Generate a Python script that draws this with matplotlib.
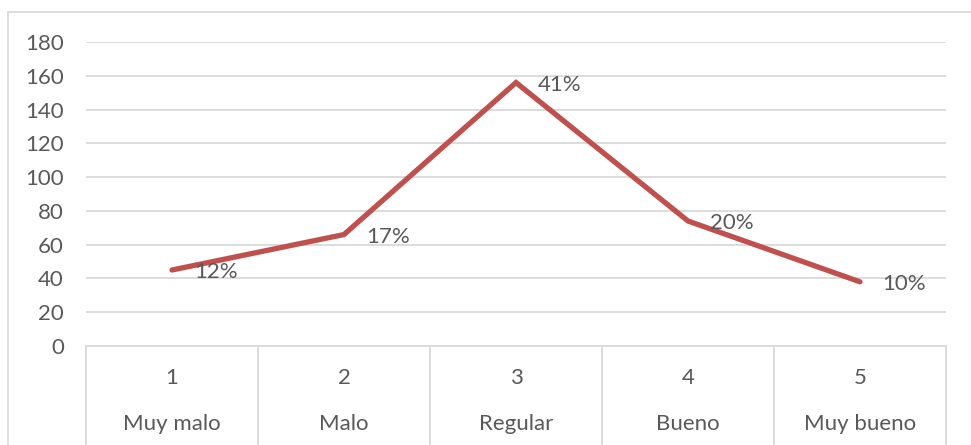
import numpy as np
import matplotlib.pyplot as plt
from matplotlib.lines import Line2D
from matplotlib.transforms import blended_transform_factory

# data
numbers = ['1', '2', '3', '4', '5']
categories = ['Muy malo', 'Malo', 'Regular', 'Bueno', 'Muy bueno']
counts = [45, 66, 156, 74, 38]
pct_labels = ['12%', '17%', '41%', '20%', '10%']

plt.rcParams['font.family'] = ['Lato', 'DejaVu Sans']
text_color = '#595959'
grid_color = '#D9D9D9'
fs = 16

fig = plt.figure(figsize=(9.71, 4.45), dpi=100)
W, H = 971, 445
ax = fig.add_axes([86 / W, (H - 346) / H, (946 - 86) / W, (346 - 42) / H])

x = np.arange(1, len(counts) + 1)
ax.plot(x, counts, color='#C0504D', linewidth=3.8, solid_capstyle='round',
        solid_joinstyle='miter', zorder=3)

for xi, yi, lab in zip(x, counts, pct_labels):
    ax.annotate(lab, (xi, yi), xytext=(16, -1.5), textcoords='offset points',
                ha='left', va='center', fontsize=fs, color=text_color, zorder=4)

ax.set_xlim(0.5, len(counts) + 0.5)
ax.set_ylim(0, 180)
ax.set_yticks(np.arange(0, 181, 20))
ax.yaxis.grid(True, color=grid_color, linewidth=1.3)
ax.set_axisbelow(True)
ax.tick_params(axis='y', length=0, pad=16, labelsize=fs, labelcolor=text_color)
ax.set_xticks([])
for s in ['top', 'right', 'left']:
    ax.spines[s].set_visible(False)
ax.spines['bottom'].set_color(grid_color)
ax.spines['bottom'].set_linewidth(1.3)

# multi-level category axis
trans = blended_transform_factory(ax.transData, ax.transAxes)
for b in np.arange(0.5, len(counts) + 1, 1.0):
    ax.plot([b, b], [0, -0.34], transform=trans, color=grid_color,
            linewidth=1.3, clip_on=False)
for xi, num, cat in zip(x, numbers, categories):
    ax.text(xi, -0.105, num, transform=trans, ha='center', va='center',
            fontsize=fs, color=text_color)
    ax.text(xi, -0.255, cat, transform=trans, ha='center', va='center',
            fontsize=fs, color=text_color)

# chart border
fig.add_artist(Line2D([8 / W, 8 / W], [0, (H - 12) / H], color=grid_color, linewidth=1.3))
fig.add_artist(Line2D([8 / W, 1], [(H - 12) / H, (H - 12) / H], color=grid_color, linewidth=1.3))

fig.savefig('out.png', dpi=100)
